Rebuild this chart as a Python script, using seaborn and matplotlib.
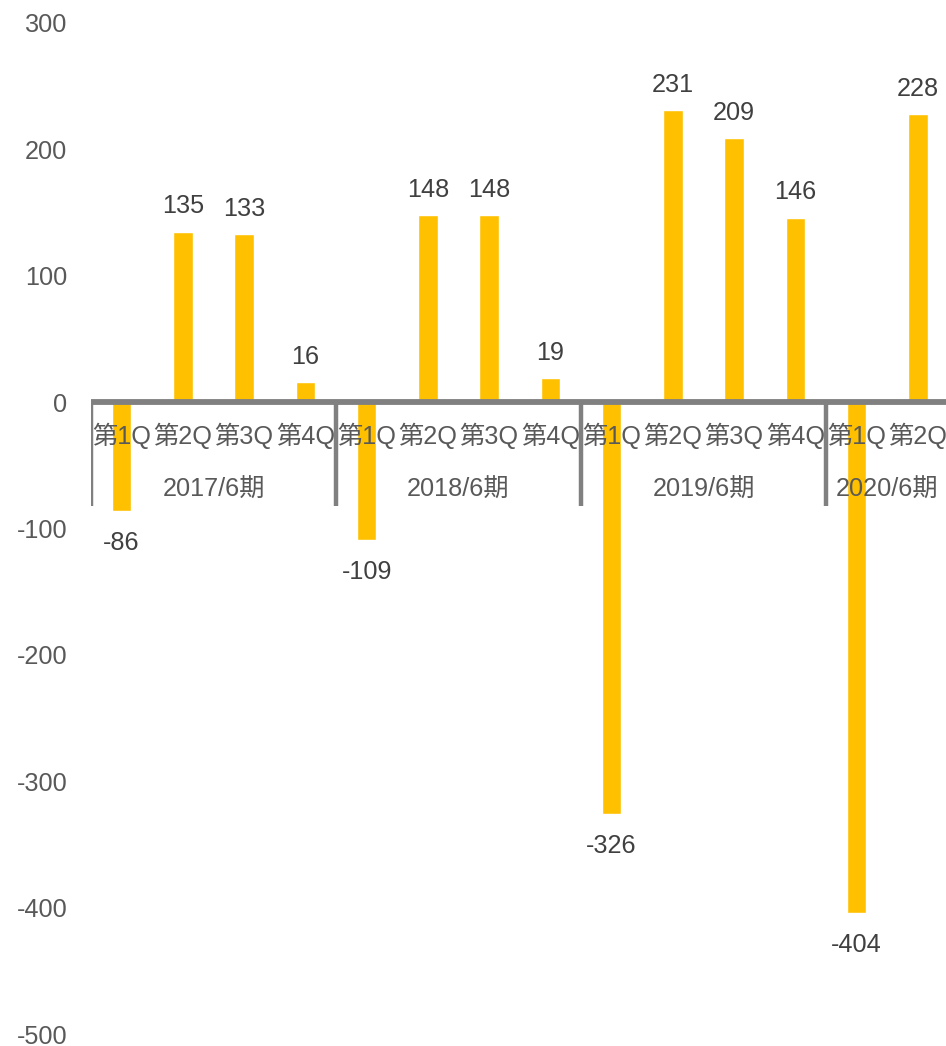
import matplotlib
matplotlib.use("Agg")
import matplotlib.pyplot as plt
import seaborn as sns
import pandas as pd

# Quarterly figures by fiscal year
years = ["2017/6期", "2018/6期", "2019/6期", "2020/6期"]
quarters = ["第1Q", "第2Q", "第3Q", "第4Q"]
values_2017 = [-86, 135, 133, 16]
values_2018 = [-109, 148, 148, 19]
values_2019 = [-326, 231, 209, 146]
values_2020 = [-404, 228]
y_ticks = [300, 200, 100, 0, -100, -200, -300, -400, -500]

series = [values_2017, values_2018, values_2019, values_2020]
rows = []
for yi, (yr, vals) in enumerate(zip(years, series)):
    for qi, v in enumerate(vals):
        rows.append({"idx": len(rows), "year": yr, "quarter": quarters[qi], "value": v})
df = pd.DataFrame(rows)

sns.set_theme(style="white")
plt.rcParams["font.family"] = ["Liberation Sans", "Noto Sans CJK JP", "DejaVu Sans"]

FS = 18.2

fig = plt.figure(figsize=(9.46, 10.46), dpi=100)
ax = fig.add_axes([91 / 946, 12 / 1046, 857.5 / 946, 1011 / 1046])

sns.barplot(data=df, x="idx", y="value", color="#FFC000", width=0.32,
            saturation=1, ax=ax, zorder=2)

ax.set_xlim(-0.5, len(df) - 0.5)
ax.set_ylim(-500, 300)
ax.set_yticks(y_ticks)
ax.set_yticklabels([str(t) for t in y_ticks], fontsize=FS, color="#595959")
ax.tick_params(axis="y", length=0, pad=17)
ax.set_xticks([])
ax.set_xlabel("")
ax.set_ylabel("")
for s in ax.spines.values():
    s.set_visible(False)

# Category axis at zero
ax.axhline(0, color="#808080", lw=4.2, zorder=3, solid_capstyle="butt")

# Group separators
start = 0
for vals in series:
    ax.plot([start - 0.5, start - 0.5], [0, -82], color="#808080", lw=3.2,
            zorder=3, solid_capstyle="butt")
    start += len(vals)

# Quarter and year labels
start = 0
for yr, vals in zip(years, series):
    for qi in range(len(vals)):
        ax.text(start + qi, -27, quarters[qi], ha="center", va="center",
                fontsize=FS, color="#595959", zorder=4)
    ax.text(start + (len(vals) - 1) / 2, -69, yr, ha="center", va="center",
            fontsize=FS, color="#595959", zorder=4)
    start += len(vals)

# Value labels
for _, r in df.iterrows():
    v = r["value"]
    if v >= 0:
        ax.annotate(f"{v}", (r["idx"], v), xytext=(0, 9.5), textcoords="offset points",
                    ha="center", va="bottom", fontsize=FS, color="#404040")
    else:
        ax.annotate(f"{v}", (r["idx"], v), xytext=(0, -14.5), textcoords="offset points",
                    ha="center", va="top", fontsize=FS, color="#404040")

fig.savefig("out.png", dpi=100)
